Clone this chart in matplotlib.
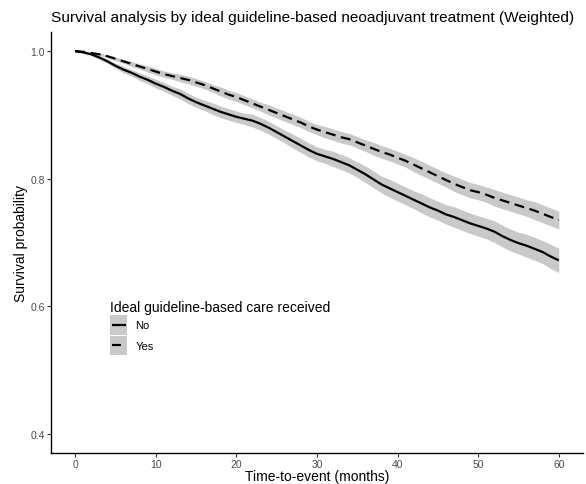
import matplotlib
matplotlib.use("Agg")
import matplotlib.pyplot as plt
import numpy as np
from matplotlib.patches import Rectangle
from matplotlib.lines import Line2D
from matplotlib.legend_handler import HandlerBase

plt.rcParams['font.family'] = ['Liberation Sans', 'DejaVu Sans']

months = list(range(0, 61))

surv_no = [1.000, 0.998, 0.995, 0.990, 0.984, 0.977, 0.971, 0.966, 0.960, 0.955,
           0.949, 0.944, 0.938, 0.933, 0.926, 0.920, 0.915, 0.910, 0.905, 0.901,
           0.897, 0.894, 0.891, 0.886, 0.880, 0.873, 0.866, 0.859, 0.852, 0.845,
           0.839, 0.835, 0.831, 0.826, 0.821, 0.814, 0.807, 0.799, 0.791, 0.785,
           0.779, 0.773, 0.767, 0.761, 0.755, 0.750, 0.744, 0.740, 0.735, 0.730,
           0.726, 0.722, 0.717, 0.710, 0.704, 0.699, 0.695, 0.690, 0.685, 0.678,
           0.672]

surv_yes = [1.000, 0.999, 0.997, 0.995, 0.992, 0.988, 0.984, 0.980, 0.976, 0.972,
            0.968, 0.964, 0.961, 0.958, 0.955, 0.951, 0.947, 0.942, 0.937, 0.932,
            0.928, 0.923, 0.918, 0.913, 0.908, 0.903, 0.898, 0.893, 0.888, 0.882,
            0.877, 0.873, 0.869, 0.865, 0.862, 0.857, 0.852, 0.847, 0.842, 0.838,
            0.833, 0.828, 0.822, 0.816, 0.810, 0.804, 0.798, 0.792, 0.787, 0.782,
            0.779, 0.775, 0.770, 0.766, 0.762, 0.758, 0.754, 0.750, 0.745, 0.740,
            0.735]

ci_no = [0.000, 0.001, 0.002, 0.003, 0.003, 0.004, 0.005, 0.005, 0.006, 0.006,
         0.007, 0.007, 0.007, 0.008, 0.008, 0.008, 0.008, 0.009, 0.009, 0.009,
         0.009, 0.009, 0.010, 0.010, 0.010, 0.010, 0.010, 0.011, 0.011, 0.011,
         0.011, 0.011, 0.012, 0.012, 0.012, 0.012, 0.013, 0.013, 0.013, 0.014,
         0.014, 0.014, 0.014, 0.015, 0.015, 0.015, 0.015, 0.016, 0.016, 0.016,
         0.016, 0.016, 0.017, 0.017, 0.017, 0.017, 0.018, 0.018, 0.018, 0.019,
         0.019]

ci_yes = [0.000, 0.001, 0.001, 0.002, 0.002, 0.003, 0.003, 0.004, 0.004, 0.005,
          0.005, 0.005, 0.005, 0.006, 0.006, 0.006, 0.006, 0.006, 0.007, 0.007,
          0.007, 0.007, 0.007, 0.007, 0.008, 0.008, 0.008, 0.008, 0.008, 0.008,
          0.008, 0.009, 0.009, 0.009, 0.009, 0.009, 0.009, 0.010, 0.010, 0.010,
          0.010, 0.010, 0.011, 0.011, 0.011, 0.011, 0.011, 0.012, 0.012, 0.012,
          0.012, 0.012, 0.013, 0.013, 0.013, 0.013, 0.013, 0.014, 0.014, 0.014,
          0.014]

groups = ["No", "Yes"]
x_ticks = [0, 10, 20, 30, 40, 50, 60]
y_ticks = [0.4, 0.6, 0.8, 1.0]

fig = plt.figure(figsize=(5.86, 4.85), dpi=100)
ax = fig.add_axes([51/586, 1-454/485, (583-51)/586, (454-33)/485])

band_color = "#c9c9c9"
styles = {"No": (0, ()), "Yes": (0, (4.5, 2.5))}
data = {"No": (surv_no, ci_no), "Yes": (surv_yes, ci_yes)}

t = np.array(months, dtype=float)
for g in groups:
    s, c = data[g]
    s = np.array(s); c = np.array(c)
    ax.fill_between(t, s - c, s + c, color=band_color, lw=0, zorder=1)
for g in groups:
    s, c = data[g]
    ax.plot(t, s, color="black", lw=1.6, linestyle=styles[g], zorder=3)

ax.set_xlim(-3, 63)
ax.set_ylim(0.37, 1.03)
ax.set_xticks(x_ticks)
ax.set_yticks(y_ticks)
ax.set_xticklabels([str(v) for v in x_ticks])
ax.set_yticklabels([f"{v:.1f}" for v in y_ticks])
for sp in ["top", "right"]:
    ax.spines[sp].set_visible(False)
for sp in ["left", "bottom"]:
    ax.spines[sp].set_linewidth(1.0)
    ax.spines[sp].set_color("black")
ax.tick_params(axis="both", length=3, width=0.8, color="#333333",
               labelsize=7.5, labelcolor="#4d4d4d", pad=1.5)

ax.set_xlabel("Time-to-event (months)", fontsize=10, labelpad=0)
ax.set_ylabel("Survival probability", fontsize=10, labelpad=1.5)
ax.set_title("Survival analysis by ideal guideline-based neoadjuvant treatment (Weighted)",
             fontsize=11.1, loc="left", pad=8)


class KeyHandler(HandlerBase):
    def __init__(self, ls):
        super().__init__()
        self.ls = ls

    def create_artists(self, legend, orig_handle, xdescent, ydescent, width, height, fontsize, trans):
        r = Rectangle((-xdescent, -ydescent), width, height, facecolor=band_color,
                      edgecolor="none", transform=trans)
        l = Line2D([-xdescent + 1, -xdescent + width - 1], [height / 2 - ydescent] * 2,
                   color="black", lw=1.6, linestyle=self.ls, transform=trans)
        return [r, l]


h_no = Line2D([], [])
h_yes = Line2D([], [], linestyle="--")
leg = ax.legend([h_no, h_yes], groups,
                handler_map={h_no: KeyHandler(styles["No"]), h_yes: KeyHandler((0, (4, 4.5)))},
                title="Ideal guideline-based care received",
                loc="upper left", bbox_to_anchor=((106-51)/532, (454-297)/421),
                frameon=False, fontsize=8, title_fontsize=10,
                handlelength=1.5, handleheight=2.3, handletextpad=0.75, labelspacing=0.08,
                borderaxespad=0, alignment="left")
leg._legend_box.align = "left"

fig.savefig("out.png", dpi=100)
